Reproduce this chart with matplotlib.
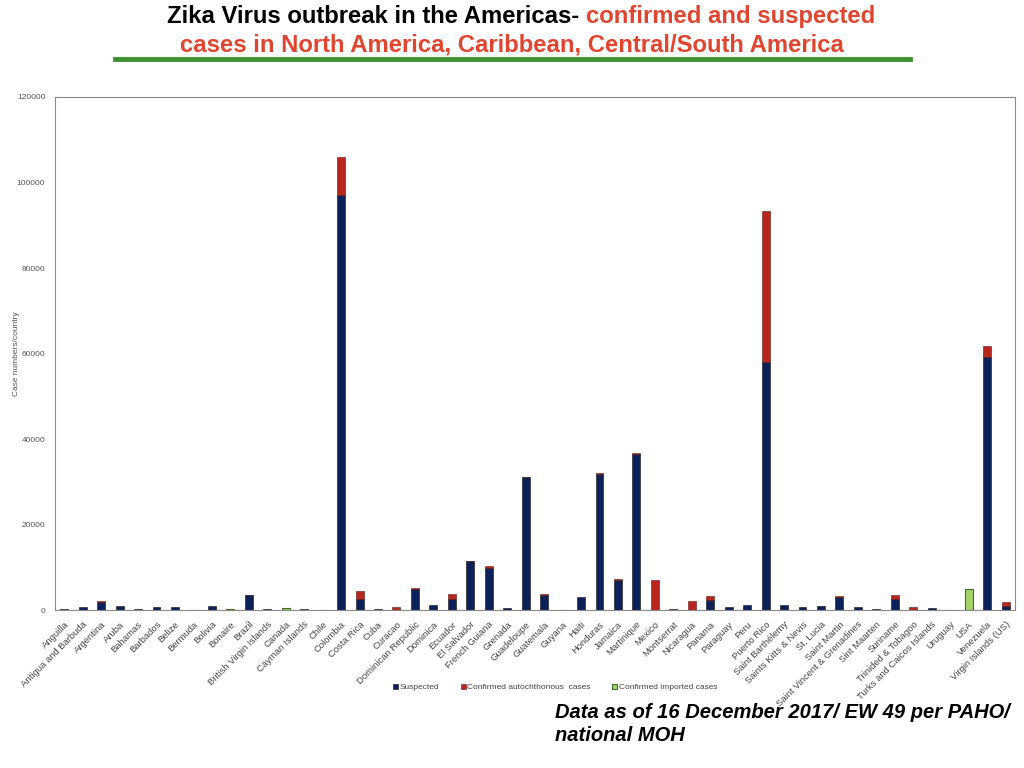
import numpy as np
import matplotlib.pyplot as plt

plt.rcParams['font.family'] = ['Liberation Sans', 'DejaVu Sans']

countries = ["Anguilla", "Antigua and Barbuda", "Argentina", "Aruba", "Bahamas", "Barbados",
             "Belize", "Bermuda", "Bolivia", "Bonaire", "Brazil", "British Virgin Islands",
             "Canada", "Cayman Islands", "Chile", "Colombia", "Costa Rica", "Cuba", "Curacao",
             "Dominican Republic", "Dominica", "Ecuador", "El Salvador", "French Guiana",
             "Grenada", "Guadeloupe", "Guatemala", "Guyana", "Haiti", "Honduras", "Jamaica",
             "Martinique", "Mexico", "Montserrat", "Nicaragua", "Panama", "Paraguay", "Peru",
             "Puerto Rico", "Saint Barthélemy", "Saints Kitts & Nevis", "St. Lucia",
             "Saint Martin", "Saint Vincent & Grenadines", "Sint Maarten", "Suriname",
             "Trinided & Tobagoo", "Turks and Caicos Islands", "Uruguay", "USA", "Venezuela",
             "Virgin Islands (US)"]

suspected = [250, 600, 1900, 850, 250, 780, 780, 0, 950, 0, 3450, 200,
             0, 300, 0, 97000, 2600, 200, 60, 4900, 1150, 2500, 11400, 9900,
             470, 31000, 3400, 0, 2950, 31900, 7100, 36600, 0, 150, 0, 2350,
             620, 1170, 58000, 1170, 620, 940, 3100, 620, 300, 2600, 60, 400,
             0, 0, 59200, 950]
confirmed = [0, 0, 150, 0, 0, 0, 0, 0, 0, 0, 150, 0,
             0, 0, 0, 9000, 1850, 0, 720, 200, 0, 1150, 100, 400,
             0, 100, 280, 0, 0, 100, 80, 100, 6950, 0, 2100, 950,
             0, 0, 35300, 0, 0, 0, 120, 0, 0, 1000, 720, 0,
             0, 0, 2500, 1000]
imported = [0, 0, 0, 0, 0, 0, 0, 120, 0, 150, 0, 0,
            450, 0, 100, 0, 0, 0, 0, 0, 0, 0, 0, 0,
            0, 0, 0, 120, 0, 0, 0, 0, 0, 0, 0, 0,
            0, 0, 0, 0, 0, 0, 0, 0, 0, 0, 0, 0,
            80, 4900, 0, 0]

navy = "#0c2159"
red = "#b8271d"
green = "#a6d46b"

fig = plt.figure(figsize=(10.24, 7.68), dpi=100)
ax = fig.add_axes([0.0537, 0.2057, 0.9373, 0.668])

x = np.arange(len(countries))
s = np.array(suspected)
c = np.array(confirmed)
im = np.array(imported)
w = 0.43
m1 = s > 0
m2 = c > 0
m3 = im > 0
ax.bar(x[m1], s[m1], w, color=navy, edgecolor="#111111", linewidth=0.4, label="Suspected")
ax.bar(x[m2], c[m2], w, bottom=s[m2], color=red, edgecolor="#5a1a10", linewidth=0.4,
       label="Confirmed autochthonous  cases")
ax.bar(x[m3], im[m3], w, bottom=(s + c)[m3], color=green, edgecolor="#3d6e22", linewidth=0.8,
       label="Confirmed imported cases")

ax.set_xlim(-0.5, len(countries) - 0.5)
ax.set_ylim(0, 120000)
ax.set_yticks(np.arange(0, 120001, 20000))
ax.tick_params(axis="y", length=0, labelsize=6, labelcolor="#555555", pad=7)
ax.tick_params(axis="x", length=0, labelsize=6.8, labelcolor="#444444", pad=7)
ax.set_xticks(x)
ax.set_xticklabels(countries, rotation=45, ha="right", rotation_mode="anchor")
ax.set_ylabel("Case numbers/country", fontsize=6, color="#555555")
ax.yaxis.set_label_coords(-0.036, 0.5)
for sp in ax.spines.values():
    sp.set_color("#888888")
    sp.set_linewidth(0.8)

leg = fig.legend(loc="center", bbox_to_anchor=(0.542, 0.105), ncol=3, frameon=False,
                 fontsize=6, handlelength=0.6, handleheight=0.6, handletextpad=0.2,
                 columnspacing=2.6)
for t in leg.get_texts():
    t.set_color("#444444")

# title
tsize = 17.2
t1 = fig.text(0.5, 0.978, "Zika Virus outbreak in the Americas- ", ha="left", va="center",
              fontsize=tsize, fontweight="bold", color="black")
t2 = fig.text(0.5, 0.978, "confirmed and suspected", ha="left", va="center",
              fontsize=tsize, fontweight="bold", color="#e0452f")
fig.canvas.draw()
w1 = t1.get_window_extent().width
w2 = t2.get_window_extent().width
x0 = 521 - (w1 + w2) / 2
t1.set_x(x0 / 1024)
t2.set_x((x0 + w1) / 1024)
fig.text(0.5, 0.941, "cases in North America, Caribbean, Central/South America",
         ha="center", va="center", fontsize=tsize, fontweight="bold",
         color="#e0452f")
fig.add_artist(plt.Line2D([0.112, 0.889], [0.9235, 0.9235], color="#3e9130", linewidth=3.5))

fig.text(0.542, 0.057, "Data as of 16 December 2017/ EW 49 per PAHO/\nnational MOH",
         ha="left", va="center", fontsize=14.5, fontweight="bold", style="italic",
         linespacing=1.3, color="black")

fig.savefig("out.png", dpi=100)
